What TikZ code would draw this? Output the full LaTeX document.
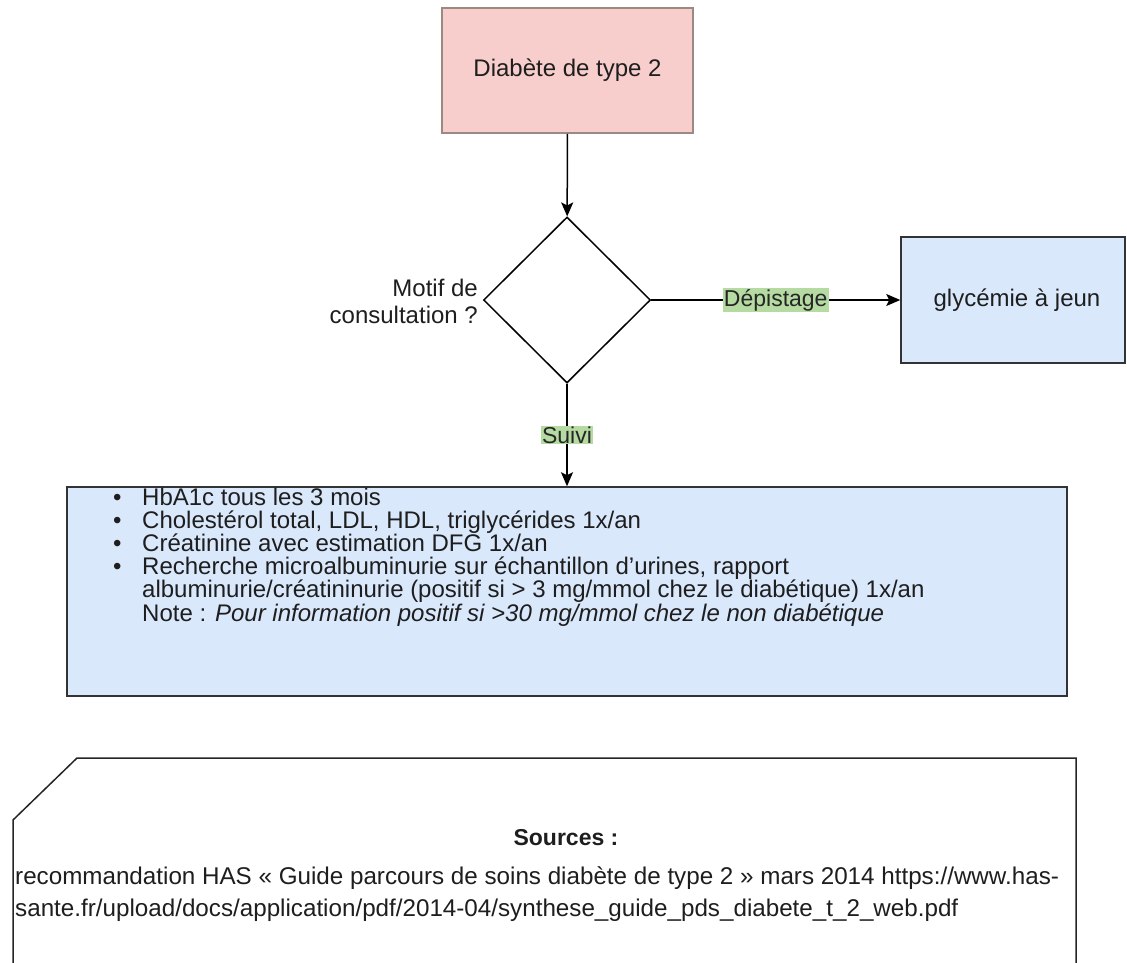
\documentclass[tikz,border=0pt]{standalone}
\usepackage{fontspec}
\setmainfont{Liberation Sans}
\usetikzlibrary{shapes.geometric,arrows.meta}
\definecolor{pinkfill}{HTML}{F8CECC}
\definecolor{pinkline}{HTML}{9A8A82}
\definecolor{bluefill}{HTML}{DAE8FC}
\definecolor{lblgreen}{HTML}{B5DBA2}
\definecolor{txt}{HTML}{1E1E1E}
\tikzset{
  arr/.style={line width=1.5pt, -{Stealth[length=14pt,width=12pt,inset=3pt]}},
  boxbase/.style={draw, line width=1.5pt, inner sep=0pt, text=txt, font=\fontsize{24}{28}\selectfont},
  topbox/.style={boxbase, fill=pinkfill, draw=pinkline, minimum width=251pt, minimum height=125pt},
  bluebox/.style={boxbase, fill=bluefill, draw=black!80},
  decision/.style={diamond, draw, line width=1.5pt, fill=white, inner sep=0pt, minimum width=167pt, minimum height=166pt},
  lbl/.style={fill=lblgreen, inner sep=1pt, text=black!85, font=\fontsize{23}{26}\selectfont},
  plain/.style={inner sep=0pt, text=txt}
}
\begin{document}
\begin{tikzpicture}[x=1pt,y=-1pt]
\useasboundingbox (0,0) rectangle (1127,962);
\clip (0,0) rectangle (1127,962);
\fill[white] (0,0) rectangle (1127,962);

\node[topbox] (diab) at (567.5,70.5) {Diabète de type 2};
\node[decision] (dec) at (567,300) {};
\node[plain, anchor=east, align=right, font=\fontsize{24}{27}\selectfont] (motif) at (478,301) {Motif de\\consultation ?};
\node[bluebox, minimum width=224pt, minimum height=126pt] (gly) at (1013,300) {\hspace*{8pt}glycémie à jeun};
\node[bluebox, minimum width=1000pt, minimum height=209pt] (bul) at (567,591.5) {};

\node[plain, anchor=north west] (bultxt) at (113,488) {\parbox[t]{940pt}{\fontsize{24}{22.4}\selectfont
\makebox[29pt][l]{•}HbA1c tous les 3 mois\\
\makebox[29pt][l]{•}Cholestérol total, LDL, HDL, triglycérides 1x/an\\
\makebox[29pt][l]{•}Créatinine avec estimation DFG 1x/an\\
\makebox[29pt][l]{•}Recherche microalbuminurie sur échantillon d’urines, rapport\\
\hspace*{29pt}albuminurie/créatininurie (positif si > 3 mg/mmol chez le diabétique) 1x/an\\
\hspace*{29pt}Note : \textit{Pour information positif si >30 mg/mmol chez le non diabétique}}};

\draw[arr] (diab) -- (dec);
\draw[arr] (dec) -- node[lbl] {Dépistage} (gly);
\draw[arr] (dec) -- node[lbl] {Suivi} (bul);

% sources note
\draw[line width=1.5pt, draw=black!85] (77,758) -- (1076,758) -- (1076,980) -- (13,980) -- (13,820) -- cycle;
\node[plain, font=\bfseries\fontsize{23}{26}\selectfont] (srctitle) at (566,838) {Sources :};
\node[plain, anchor=north west] (srctxt) at (15,866) {\parbox[t]{1100pt}{\fontsize{24.2}{32}\selectfont
recommandation HAS « Guide parcours de soins diabète de type 2 » mars 2014 https://www.has-\\
sante.fr/upload/docs/application/pdf/2014-04/synthese\_guide\_pds\_diabete\_t\_2\_web.pdf}};
\end{tikzpicture}
\end{document}
